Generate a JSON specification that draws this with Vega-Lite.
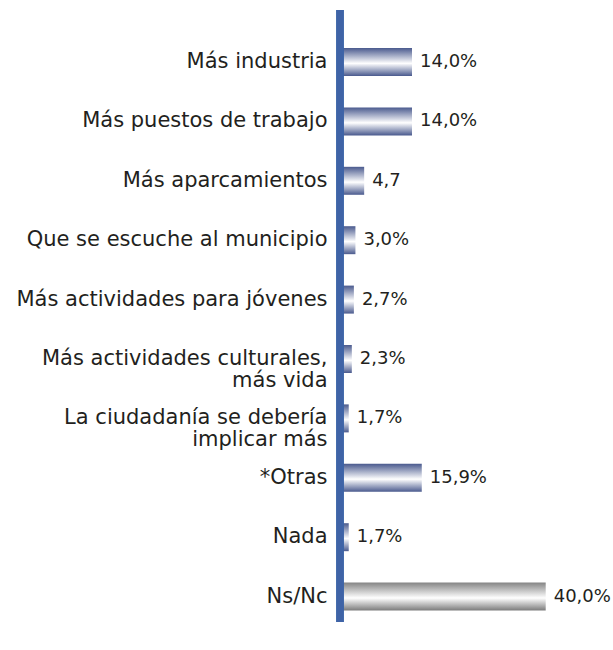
{
  "$schema": "https://vega.github.io/schema/vega-lite/v6.json",
  "autosize": "none",
  "padding": {"left": 340, "top": 10, "right": 3, "bottom": 28},
  "width": 270,
  "height": 612,
  "background": "white",
  "config": {"view": {"stroke": null}},
  "data": {
    "values": [
      {"cat": "Más industria", "v": 14.0, "lab": "14,0%"},
      {"cat": "Más puestos de trabajo", "v": 14.0, "lab": "14,0%"},
      {"cat": "Más aparcamientos", "v": 4.7, "lab": "4,7"},
      {"cat": "Que se escuche al municipio", "v": 3.0, "lab": "3,0%"},
      {"cat": "Más actividades para jóvenes", "v": 2.7, "lab": "2,7%"},
      {"cat": "Más actividades culturales,|más vida", "v": 2.3, "lab": "2,3%"},
      {"cat": "La ciudadanía se debería|implicar más", "v": 1.7, "lab": "1,7%"},
      {"cat": "*Otras", "v": 15.9, "lab": "15,9%"},
      {"cat": "Nada", "v": 1.7, "lab": "1,7%"},
      {"cat": "Ns/Nc", "v": 40.0, "lab": "40,0%"}
    ]
  },
  "layer": [
    {
      "transform": [{"filter": "datum.cat !== 'Ns/Nc'"}],
      "mark": {
        "type": "bar",
        "fill": {"gradient": "linear", "x1": 0, "y1": 0, "x2": 0, "y2": 1,
          "stops": [
            {"offset": 0, "color": "#4a5a8e"},
            {"offset": 0.55, "color": "#ffffff"},
            {"offset": 1, "color": "#4a5a8e"}
          ]}
      },
      "encoding": {
        "y": {
          "field": "cat", "type": "nominal", "title": null,
          "scale": {"domain": ["Más industria", "Más puestos de trabajo", "Más aparcamientos", "Que se escuche al municipio", "Más actividades para jóvenes", "Más actividades culturales,|más vida", "La ciudadanía se debería|implicar más", "*Otras", "Nada", "Ns/Nc"], "paddingInner": 0.529, "paddingOuter": 0.416, "align": 0.769},
          "axis": {
            "domain": false, "ticks": false, "labelPadding": 13,
            "labelFont": "DejaVu Sans", "labelFontSize": 21, "labelColor": "#231f20",
            "labelLineHeight": 22, "labelLimit": 400,
            "labelExpr": "split(datum.label, '|')"
          }
        },
        "x": {"field": "v", "type": "quantitative", "scale": {"domain": [0, 52.5], "nice": false}, "axis": null}
      }
    },
    {
      "transform": [{"filter": "datum.cat === 'Ns/Nc'"}],
      "mark": {
        "type": "bar",
        "fill": {"gradient": "linear", "x1": 0, "y1": 0, "x2": 0, "y2": 1,
          "stops": [
            {"offset": 0, "color": "#858585"},
            {"offset": 0.55, "color": "#ffffff"},
            {"offset": 1, "color": "#7a7a7a"}
          ]}
      },
      "encoding": {
        "y": {"field": "cat", "type": "nominal"},
        "x": {"field": "v", "type": "quantitative"}
      }
    },
    {
      "mark": {"type": "text", "align": "left", "baseline": "middle", "dx": 8, "font": "DejaVu Sans", "fontSize": 18, "color": "#231f20"},
      "encoding": {
        "y": {"field": "cat", "type": "nominal"},
        "x": {"field": "v", "type": "quantitative"},
        "text": {"field": "lab"}
      }
    },
    {
      "mark": {"type": "rule", "color": "#3f63a6", "strokeWidth": 6.5},
      "encoding": {"x": {"datum": 0, "type": "quantitative"}}
    }
  ]
}
